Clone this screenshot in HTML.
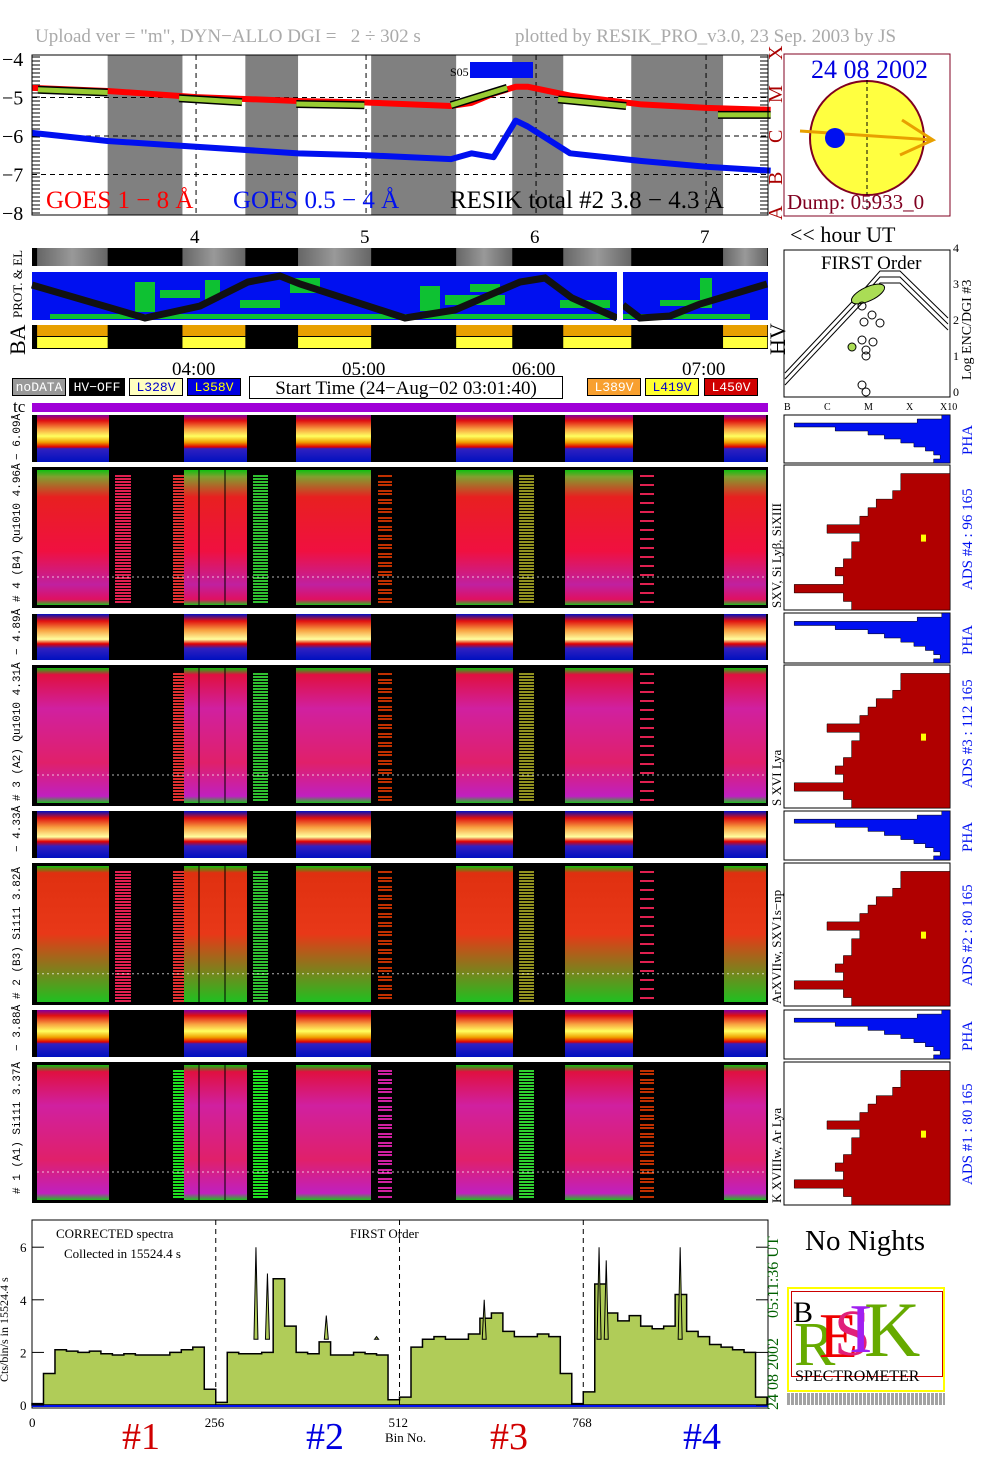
<!DOCTYPE html>
<html><head><meta charset="utf-8"><style>
body{margin:0;background:#fff;width:1004px;height:1477px;position:relative;overflow:hidden;font-family:"Liberation Serif",serif}
.a{position:absolute}
.rot{position:absolute;transform:rotate(-90deg);transform-origin:left top;white-space:nowrap}
.lg{position:absolute;top:378px;height:18px;border:1px solid #000;font:13px "Liberation Mono",monospace;line-height:18px;text-align:center;box-sizing:border-box}
</style></head><body>
<div class="a" style="left:35px;top:26px;font-size:19px;color:#aaa">Upload ver = "m", DYN−ALLO DGI =&nbsp;&nbsp; 2 ÷ 302 s</div>
<div class="a" style="left:515px;top:26px;font-size:19px;color:#aaa">plotted by RESIK_PRO_v3.0, 23 Sep. 2003 by JS</div>

<svg class="a" style="left:0;top:0" width="1004" height="1477" id="main"></svg>

<div class="a" style="left:811px;top:55px;font-size:26px;color:#0000e0">24 08 2002</div>
<div class="a" style="left:787px;top:190px;font-size:21px;color:#800020">Dump: 05933_0</div>
<div class="a" style="left:790px;top:222px;font-size:22px">&lt;&lt; hour UT</div>
<div class="a" style="left:821px;top:253px;font-size:19px">FIRST Order</div>
<div class="rot" style="left:960px;top:380px;font-size:14px">Log ENC/DGI #3</div>
<div class="rot" style="left:765px;top:355px;font-size:22px">HV</div>
<div class="rot" style="left:5px;top:355px;font-size:22px">BA</div>
<div class="rot" style="left:10px;top:318px;font-size:13px">PROT. &amp; EL</div>
<div class="a" style="left:13px;top:397px;font-size:17px">tc</div>

<div class="lg" style="left:12px;width:54px;background:#999;color:#fff">noDATA</div>
<div class="lg" style="left:69px;width:56px;background:#000;color:#fff">HV−OFF</div>
<div class="lg" style="left:129px;width:54px;background:#ffffc0;color:#00c">L328V</div>
<div class="lg" style="left:187px;width:54px;background:#0000e0;color:#ff0">L358V</div>
<div class="lg" style="left:249px;width:314px;height:23px;top:376px;font:19px 'Liberation Serif',serif;line-height:23px">Start Time (24−Aug−02 03:01:40)</div>
<div class="lg" style="left:587px;width:54px;background:#f8a030;color:#fff">L389V</div>
<div class="lg" style="left:645px;width:54px;background:#ffff30;color:#00c">L419V</div>
<div class="lg" style="left:704px;width:54px;background:#d00000;color:#fff">L450V</div>

<div class="a" style="left:805px;top:1225px;font-size:29px">No Nights</div>
<div class="a" style="left:385px;top:1430px;font-size:13px">Bin No.</div>
<div class="a" style="left:122px;top:1415px;font-size:38px;color:#d00000">#1</div>
<div class="a" style="left:306px;top:1415px;font-size:38px;color:#0000e0">#2</div>
<div class="a" style="left:490px;top:1415px;font-size:38px;color:#d00000">#3</div>
<div class="a" style="left:683px;top:1415px;font-size:38px;color:#0000e0">#4</div>
<div class="a" style="left:56px;top:1226px;font-size:13px">CORRECTED spectra</div>
<div class="a" style="left:64px;top:1246px;font-size:13px">Collected in 15524.4 s</div>
<div class="a" style="left:350px;top:1226px;font-size:13px">FIRST Order</div>
<div class="rot" style="left:-3px;top:1382px;font-size:12px">Cts/bin/s in 15524.4 s</div>
<div class="rot" style="left:765px;top:1410px;font-size:16px;color:#006000">24 08 2002&nbsp;&nbsp;&nbsp;&nbsp; 05:11:36 UT</div>

<div class="a" style="left:787px;top:1287px;width:158px;height:105px;border:2px solid #ff0;box-sizing:border-box;background:#fff">
 <div class="a" style="left:2px;top:2px;width:150px;height:84px;border:1px solid #c00"></div>
 <div class="a" style="left:4px;top:7px;font-size:30px">B</div>
 <div class="a" style="left:5px;top:25px;font-size:62px;color:#6a0;line-height:62px">R</div>
 <div class="a" style="left:30px;top:15px;font-size:64px;color:#e00;line-height:64px">E</div>
 <div class="a" style="left:45px;top:12px;font-size:66px;color:#e0207a;line-height:66px">S</div>
 <div class="a" style="left:60px;top:6px;font-size:70px;color:#a020f0;line-height:70px">I</div>
 <div class="a" style="left:75px;top:2px;font-size:78px;color:#6a0;line-height:78px">K</div>
 <div class="a" style="left:6px;top:80px;font-size:16px;line-height:16px">SPECTROMETER</div>
</div>
<div class="a" style="left:787px;top:1393px;width:158px;height:12px;background:repeating-linear-gradient(90deg,#333 0 3px,#fff 3px 4px);opacity:.45"></div>

<script>
// ---------- data ----------
const goesTimes=[3.035,3.48,4.0,4.6,5.0,5.5,5.62,5.75,5.88,5.95,6.2,6.62,7.0,7.38];
const goesLong=[-4.75,-4.83,-4.99,-5.09,-5.13,-5.22,-5.14,-4.9,-4.72,-4.72,-4.95,-5.18,-5.27,-5.32];
const goesShort=[-5.92,-6.13,-6.28,-6.45,-6.5,-6.6,-6.45,-6.55,-5.6,-5.75,-6.45,-6.65,-6.8,-6.9];
const resikSegT=[[3.07,3.48],[3.9,4.27],[4.59,4.99],[5.5,5.83],[6.13,6.53],[7.07,7.38]];
const resikSegV=[[-4.8,-4.87],[-5.02,-5.12],[-5.17,-5.2],[-5.2,-4.75],[-5.05,-5.22],[-5.45,-5.45]];
const dataT=[[3.065,3.48],[3.92,4.29],[4.6,5.03],[5.53,5.86],[6.16,6.56],[7.1,7.36]];
const specBins=[0,16,32,48,64,80,96,112,128,144,160,176,192,208,224,240,256,272,288,304,320,336,352,368,384,400,416,432,448,464,480,496,512,528,544,560,576,592,608,624,640,656,672,688,704,720,736,752,768,784,800,816,832,848,864,880,896,912,928,944,960,976,992,1008];
const specVals=[0.05,1.2,2.1,2.05,2.0,2.05,1.95,1.9,1.95,1.9,1.9,1.9,2.0,2.1,2.2,0.6,0.1,2.0,1.95,1.95,2.0,4.8,3.0,2.0,1.95,2.4,1.9,1.9,2.0,1.95,1.9,0.2,0.3,2.2,2.5,2.6,2.5,2.5,2.7,3.3,3.5,2.8,2.6,2.6,2.7,2.6,1.2,0.05,0.5,4.6,3.5,3.2,3.4,3.0,2.9,3.0,4.2,2.8,2.6,2.3,2.2,2.1,2.0,0.3];
const specSpikeBins=[312,328,410,480,630,790,800,903];
const specSpikeVals=[6.0,5.0,3.4,2.6,4.0,6.0,5.5,6.0];
const phaProfile=[0.05,0.2,0.95,0.7,0.5,0.4,0.3,0.22,0.15,0.1,0.06,0.1];
const adsProfile=[0.0,0.3,0.3,0.35,0.45,0.5,0.55,0.75,0.55,0.6,0.6,0.65,0.7,0.65,0.95,0.65,0.6];

const S=document.getElementById('main');const NS='http://www.w3.org/2000/svg';
function el(t,a,p){const e=document.createElementNS(NS,t);for(const k in a)e.setAttribute(k,a[k]);(p||S).appendChild(e);return e;}
function tx(x,y,s,a){const e=el('text',Object.assign({x:x,y:y,'font-family':'Liberation Serif, serif'},a));e.textContent=s;return e;}
const tX=t=>32+(t-3.035)*170;
const gY=v=>59+(-v-4)*38.5;
// ---------- GOES panel ----------
el('rect',{x:32,y:55,width:736,height:160,fill:'#fff'});
const gaps=[[3.48,3.92],[4.29,4.6],[5.03,5.53],[5.86,6.16],[6.56,7.1]];
gaps.forEach((g,i)=>{const r=el('rect',{x:tX(g[0]),y:55,width:tX(g[1])-tX(g[0]),height:160,fill:'#808080'});
});
[4,5,6,7].forEach(h=>el('line',{x1:tX(h),x2:tX(h),y1:55,y2:215,stroke:'#000','stroke-dasharray':'5,4'}));
[-5,-6,-7].forEach(v=>el('line',{x1:32,x2:768,y1:gY(v),y2:gY(v),stroke:'#000','stroke-dasharray':'5,4'}));
[-4,-5,-6,-7,-8].forEach(v=>{tx(2,gY(v)+7,'−'+(-v),{'font-size':20});});
for(let y=57;y<214;y+=4){el('line',{x1:32,x2:40,y1:y,y2:y,stroke:'#000'});el('line',{x1:760,x2:768,y1:y,y2:y,stroke:'#000'});}
function line(ts,vs,c,w,n){const p=el('polyline',{points:ts.map((t,i)=>tX(t)+','+gY(vs[i])).join(' '),fill:'none',stroke:c,'stroke-width':w,'stroke-linejoin':'round'});}
line(goesTimes,goesLong,'#f00',6,'goes-long-line');
line(goesTimes,goesShort,'#0010f0',6,'goes-short-line');
resikSegT.forEach((s,i)=>{line(s,resikSegV[i],'#000',8,'resik-line-outline');line(s,resikSegV[i],'#9c3',5,'resik-line');});
el('rect',{x:470,y:62,width:63,height:16,fill:'#0010f0'});tx(450,76,'S05',{'font-size':12});
el('rect',{x:32,y:55,width:736,height:160,fill:'none',stroke:'#000'});
tx(46,208,'GOES 1 − 8 Å',{'font-size':25,fill:'#f00'});
tx(233,208,'GOES 0.5 − 4 Å',{'font-size':25,fill:'#0010f0'});
tx(450,208,'RESIK total #2  3.8 − 4.3 Å',{'font-size':25});
[['X',60],['M',103],['C',143],['B',185],['A',220]].forEach(a=>{tx(782,a[1],a[0],{'font-size':20,fill:'#a00','transform':'rotate(-90 '+782+' '+a[1]+')'});});
// sun
el('rect',{x:784,y:54,width:166,height:162,fill:'#fff',stroke:'#800020'});
el('circle',{cx:867,cy:138,r:57,fill:'#ffff40',stroke:'#800020','stroke-width':2});
el('line',{x1:867,x2:867,y1:80,y2:210,stroke:'#000','stroke-dasharray':'4,3'});
el('line',{x1:800,x2:933,y1:131,y2:140,stroke:'#e8a000','stroke-width':3});
el('polyline',{points:'902,120 933,140 900,155',fill:'none',stroke:'#e8a000','stroke-width':3});
el('circle',{cx:835,cy:138,r:10,fill:'#0010f0'});
// hour labels
[4,5,6,7].forEach(h=>tx(tX(h)-6,243,String(h),{'font-size':19}));
['04:00','05:00','06:00','07:00'].forEach((s,i)=>tx(tX(4+i)-24,375,s,{'font-size':19}));
// strip
el('rect',{x:32,y:248,width:736,height:18,fill:'#000'});
const gd=el('defs',{});const lgd=el('linearGradient',{id:'gs'},gd);
[['0','#666'],['0.5','#999'],['1','#666']].forEach(s=>el('stop',{offset:s[0],'stop-color':s[1]},lgd));
dataT.forEach(d=>{const r=el('rect',{x:tX(d[0]),y:248,width:tX(d[1])-tX(d[0]),height:18,fill:'url(#gs)'});});
// prot panel
el('rect',{x:32,y:272,width:736,height:48,fill:'#0010f0'});
[[135,282,20,30],[160,290,40,8],[205,280,15,20],[290,278,30,15],[240,300,40,8],[420,286,20,25],[445,295,60,10],[470,284,30,8],[560,300,50,8],[700,278,12,30],[660,300,40,6],[50,314,700,5]].forEach(b=>el('rect',{x:b[0],y:b[1],width:b[2],height:b[3],fill:'#10e010',opacity:.85}));
el('polyline',{points:'32,285 145,318 200,306 248,282 280,276 300,284 405,318 455,310 520,282 545,278 572,298 617,318',fill:'none',stroke:'#111','stroke-width':7});
el('polyline',{points:'623,305 640,318 670,316 700,304 767,284',fill:'none',stroke:'#111','stroke-width':7});
el('rect',{x:617,y:272,width:6,height:48,fill:'#fff'});
// BA
el('rect',{x:32,y:325,width:736,height:24,fill:'#000'});
dataT.forEach(d=>{el('rect',{x:tX(d[0]),y:325,width:tX(d[1])-tX(d[0]),height:11,fill:'#e8a000'});el('rect',{x:tX(d[0]),y:337,width:tX(d[1])-tX(d[0]),height:11,fill:'#ffff40'});});
// first order panel
el('rect',{x:784,y:250,width:166,height:147,fill:'#fff',stroke:'#000'});
[0,6,12].forEach(o=>el('polyline',{points:`785,${385-o} 865,${300-o} 880,${283-o} 900,${283-o} 948,${330-o}`,fill:'none',stroke:'#000'}));
el('ellipse',{cx:868,cy:294,rx:18,ry:7,fill:'#ad5',stroke:'#000','transform':'rotate(-25 868 294)'});
[[862,306],[872,315],[864,322],[880,323],[862,340],[873,342],[866,350],[866,356],[862,385],[866,392]].forEach(p=>el('circle',{cx:p[0],cy:p[1],r:4,fill:'none',stroke:'#000'}));
el('circle',{cx:852,cy:347,r:4,fill:'#ad5',stroke:'#000'});
['0','1','2','3','4'].forEach((s,i)=>tx(953,396-i*36,s,{'font-size':12}));
[['B',784],['C',824],['M',864],['X',906],['X10',940]].forEach(a=>tx(a[1],410,a[0],{'font-size':10}));
// tc
el('rect',{x:32,y:403,width:736,height:9,fill:'#a000d8'});
// spectrogram panels
const defs=el('defs',{});
function grad(id,stops){const g=el('linearGradient',{id:id,x1:0,y1:0,x2:0,y2:1},defs);stops.forEach(s=>el('stop',{offset:s[0],'stop-color':s[1]},g));}
grad('pha',[[0,'#8000a0'],[0.12,'#e01010'],[0.3,'#f8a040'],[0.45,'#ffff60'],[0.58,'#f0a000'],[0.68,'#e00000'],[0.72,'#3020c0'],[1,'#0010c0']]);
grad('pha2',[[0,'#0010c0'],[0.15,'#e01010'],[0.35,'#f8a040'],[0.55,'#ffffa0'],[0.65,'#e00000'],[0.75,'#3020c0'],[1,'#0010c0']]);
grad('bigB',[[0,'#10c010'],[0.05,'#80a030'],[0.2,'#e82020'],[0.6,'#f01040'],[0.85,'#c020a0'],[0.96,'#e01060'],[1,'#20c020']]);
grad('bigA',[[0,'#10c010'],[0.05,'#e01040'],[0.3,'#d020a0'],[0.7,'#e0206a'],[0.95,'#c020c0'],[1,'#20c020']]);
grad('bigB3',[[0,'#10c010'],[0.05,'#e03010'],[0.5,'#e83818'],[1,'#20c020']]);
const streaks=[[115,131,['#8a8a20','#e02050','#60b020']],[173,184,['#20e020','#80c020','#e03030']],[253,268,['#30c030','#20e020','#a0c020']],[378,392,['#e02050','#c03000','#d020a0']],[519,534,['#30d030','#20e020','#909020']],[640,654,['#e02050','#c03000','#d020c0']]];
const panels=[[415,462,'pha'],[467,608,'bigB'],[614,660,'pha2'],[665,806,'bigA'],[811,858,'pha2'],[863,1005,'bigB3'],[1010,1057,'pha'],[1062,1203,'bigA']];
const blocks=[[37,109],[184,247],[296,371],[456,513],[565,633],[724,766]];
panels.forEach((p,pi)=>{const h=p[1]-p[0];el('rect',{x:32,y:p[0],width:736,height:h,fill:'#000'});
 blocks.forEach(b=>{const r=el('rect',{x:b[0],y:p[0]+(h>100?3:0),width:b[1]-b[0],height:h-(h>100?6:0),fill:'url(#'+p[2]+')'});});
 if(h>100){streaks.forEach((s,si)=>{if(p[2]=='bigA'&&si==0)return;let k=0;for(let y=p[0]+8;y<p[1]-4;y+=3){k++;const m=(y*7+si*13)%9;if(si==3||si==5){if(m<4)continue;}el('rect',{x:s[0],y:y,width:s[1]-s[0],height:2,fill:s[2][m%3]});}});
  el('line',{x1:199,x2:199,y1:p[0],y2:p[1],stroke:'#000'});el('line',{x1:225,x2:225,y1:p[0],y2:p[1],stroke:'#000'});
  el('line',{x1:37,x2:766,y1:p[0]+h*0.78,y2:p[0]+h*0.78,stroke:'#fff','stroke-dasharray':'2,3',opacity:.7});}
});
// left panel labels
const lefts=[[466,'− 6.09Å',415],[608,'# 4 (B4) Qu1010 4.96Å',467],[661,'− 4.89Å',614],[807,'# 3 (A2) Qu1010 4.31Å',665],[858,'− 4.33Å',811],[1005,'# 2 (B3) Si111 3.82Å',863],[1057,'− 3.88Å',1010],[1200,'# 1 (A1) Si111 3.37Å',1062]];
lefts.forEach(l=>tx(20,l[0]-6,l[1],{'font-size':11,'font-family':'Liberation Mono, monospace','transform':'rotate(-90 20 '+(l[0]-6)+')'}));
// right histograms
const rp=[[415,463,'pha'],[465,610,'ads','SXV, Si Lyβ, SiXIII','ADS #4 :   96 165'],[613,663,'pha'],[665,808,'ads','S XVI Lya','ADS #3 :   112 165'],[811,860,'pha'],[863,1006,'ads','ArXVIIw, SXV1s−np','ADS #2 :   80 165'],[1010,1059,'pha'],[1062,1205,'ads','K XVIIIw, Ar Lya','ADS #1 :   80 165']];
rp.forEach(r=>{const h=r[1]-r[0];el('rect',{x:784,y:r[0],width:166,height:h,fill:'#fff',stroke:'#000'});
 const prof=r[2]=='pha'?phaProfile:adsProfile;const col=r[2]=='pha'?'#0010f0':'#b00000';
 let pts='950,'+r[0];prof.forEach((v,i)=>{const y=r[0]+i*h/prof.length;const x=950-v*164;pts+=' '+x+','+y+' '+x+','+(y+h/prof.length);});pts+=' 950,'+r[1];
 const pg=el('polygon',{points:pts,fill:col,stroke:'#000','stroke-width':.5});
 if(r[2]=='pha'){tx(972,r[0]+h-8,'PHA',{'font-size':15,fill:'#0010f0','transform':'rotate(-90 972 '+(r[0]+h-8)+')'});}
 else{el('rect',{x:921,y:r[0]+h*0.48,width:5,height:7,fill:'#ff0'});
  tx(781,r[1]-2,r[3],{'font-size':13,'transform':'rotate(-90 781 '+(r[1]-2)+')'});
  tx(972,r[1]-20,r[4],{'font-size':15,fill:'#0010f0','transform':'rotate(-90 972 '+(r[1]-20)+')'});}
});
// bottom spectrum
const bX=b=>32+b*0.7178, bY=v=>1405-v*26.3;
el('rect',{x:32,y:1220,width:736,height:188,fill:'#fff',stroke:'#000'});
let sp=bX(0)+','+bY(0);specBins.forEach((b,i)=>{sp+=' '+bX(b)+','+bY(specVals[i])+' '+bX(b+16)+','+bY(specVals[i]);});sp+=' '+bX(1024)+','+bY(0);
const poly=el('polygon',{points:sp,fill:'#b0cc58',stroke:'#000','stroke-width':1.5});
specSpikeBins.forEach((b,i)=>{const s=el('polygon',{points:`${bX(b)-2},${bY(2.5)} ${bX(b)},${bY(specSpikeVals[i])} ${bX(b)+2},${bY(2.5)}`,fill:'#b0cc58',stroke:'#000'});});
el('line',{x1:32,x2:768,y1:1406,y2:1406,stroke:'#0010f0','stroke-width':2});
[256,512,768].forEach(b=>el('line',{x1:bX(b),x2:bX(b),y1:1220,y2:1408,stroke:'#000','stroke-dasharray':'5,4'}));
[0,2,4,6].forEach(v=>{tx(20,bY(v)+5,String(v),{'font-size':13});el('line',{x1:32,x2:44,y1:bY(v),y2:bY(v),stroke:'#000'});el('line',{x1:756,x2:768,y1:bY(v),y2:bY(v),stroke:'#000'});});
[[0,'0'],[256,'256'],[512,'512'],[768,'768']].forEach(a=>tx(bX(a[0])-(a[0]?11:3),1427,a[1],{'font-size':13}));
</script>
</body></html>
